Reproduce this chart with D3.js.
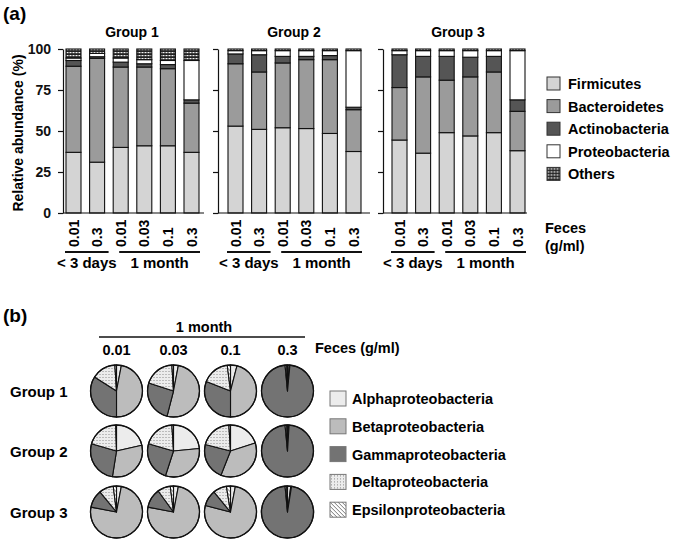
<!DOCTYPE html>
<html>
<head>
<meta charset="utf-8">
<script src="https://cdn.jsdelivr.net/npm/d3@7"></script>
<style>
  body { margin: 0; background: #fff; }
  svg { display: block; font-family: "Liberation Sans", Arial, sans-serif; font-weight: bold; }
</style>
</head>
<body>
<svg id="chart" width="675" height="541"></svg>
<script>
// ---- data (a): phylum relative abundance (%) per group, per sample ----
var phyla = ["Firmicutes", "Bacteroidetes", "Actinobacteria", "Proteobacteria", "Others"];
var groups = ["Group 1", "Group 2", "Group 3"];
var concLabels = ["0.01", "0.3", "0.01", "0.03", "0.1", "0.3"];
var periods = ["< 3 days", "1 month"];
var yTicks = [0, 25, 50, 75, 100];

var firmicutes     = [[37, 31, 40, 41, 41, 37], [53, 51, 52, 51.5, 48.5, 37.5], [44.5, 36.5, 49, 47, 49, 38]];
var bacteroidetes  = [[52.5, 63.3, 49, 48, 47, 30], [38, 35, 39.5, 42, 45, 25.5], [32, 46.5, 32, 36, 37, 24]];
var actinobacteria = [[3.5, 1, 3, 2, 2.5, 2], [6, 10.5, 4, 2, 2.5, 1.5], [20, 12.5, 14.5, 12, 9.5, 7]];
var proteobacteria = [[1.5, 2, 2.5, 2.5, 2.5, 24], [2, 2.5, 3.5, 3.5, 3, 34.5], [2.5, 3.5, 3.5, 4, 3.5, 30]];
var others         = [[5.5, 2.7, 5.5, 6.5, 7, 7], [1, 1, 1, 1, 1, 1], [1, 1, 1, 1, 1, 1]];

// ---- data (b): proteobacteria classes (%) at 1 month ----
var classes = ["Alphaproteobacteria", "Betaproteobacteria", "Gammaproteobacteria", "Deltaproteobacteria", "Epsilonproteobacteria"];
var pieConcs = ["0.01", "0.03", "0.1", "0.3"];
var alpha   = [[3, 3, 4, 1], [21.5, 23.5, 20, 0.5], [3, 3, 3, 2]];
var beta    = [[47, 51, 46, 0.5], [31, 31.5, 36, 0.5], [75, 75, 76, 0.5]];
var gamma   = [[34, 26, 31, 97], [27, 24.5, 23, 97.5], [11, 12, 10, 96]];
var delta   = [[15, 19, 17, 1], [20, 19.5, 20, 1], [9, 8, 8.5, 1]];
var epsilon = [[1, 1, 2, 0.5], [0.5, 1, 1, 0.5], [2, 2, 2.5, 0.5]];

var svg = d3.select("#chart");
var defs = svg.append("defs");

// patterns
var pOthers = defs.append("pattern").attr("id", "p-others")
  .attr("patternUnits", "userSpaceOnUse").attr("width", 3).attr("height", 3);
pOthers.append("rect").attr("width", 3).attr("height", 3).attr("fill", "#222");
pOthers.append("rect").attr("x", 0.5).attr("y", 1).attr("width", 2).attr("height", 1.2).attr("fill", "#f4f4f4");

var pDelta = defs.append("pattern").attr("id", "p-delta")
  .attr("patternUnits", "userSpaceOnUse").attr("width", 3).attr("height", 3);
pDelta.append("rect").attr("width", 3).attr("height", 3).attr("fill", "#ececec");
pDelta.append("rect").attr("x", 1).attr("y", 1).attr("width", 1).attr("height", 1).attr("fill", "#8a8a8a");

var pEps = defs.append("pattern").attr("id", "p-eps")
  .attr("patternUnits", "userSpaceOnUse").attr("width", 4).attr("height", 4);
pEps.append("rect").attr("width", 4).attr("height", 4).attr("fill", "#fff");
pEps.append("path").attr("d", "M-1,-1L5,5M-1,3L1,5M3,-1L5,1")
  .attr("stroke", "#777").attr("stroke-width", 1);

var phylumFill = d3.scaleOrdinal().domain(phyla)
  .range(["#d4d4d4", "#9b9b9b", "#555555", "#ffffff", "url(#p-others)"]);
var classFill = d3.scaleOrdinal().domain(classes)
  .range(["#ececec", "#bcbcbc", "#737373", "url(#p-delta)", "url(#p-eps)"]);

// ================= (a) stacked bars =================
svg.append("text").attr("x", 3).attr("y", 20).attr("font-size", 19).text("(a)");

var y = d3.scaleLinear().domain([0, 100]).range([213, 49]);
var panels = [
  {axisX: 63, barStart: 66, axisEnd: 204},
  {axisX: 218, barStart: 228, axisEnd: 370},
  {axisX: 383, barStart: 392, axisEnd: 527}
];
var stack = d3.stack().keys(phyla);
var series = [firmicutes, bacteroidetes, actinobacteria, proteobacteria, others];

groups.forEach(function(gName, gi) {
  var p = panels[gi];
  var x = d3.scaleBand().domain(d3.range(concLabels.length))
    .range([p.barStart, p.barStart + 133]).paddingInner(0.3644).paddingOuter(0);
  var rows = concLabels.map(function(c, i) {
    var o = {};
    phyla.forEach(function(k, ki) { o[k] = series[ki][gi][i]; });
    return o;
  });
  var g = svg.append("g");

  g.append("text").attr("x", x(0) + 66).attr("y", 37)
    .attr("text-anchor", "middle").attr("font-size", 14).text(gName);

  var layer = g.selectAll(".layer").data(stack(rows)).enter().append("g")
    .attr("fill", function(d) { return phylumFill(d.key); });
  layer.selectAll("rect").data(function(d) { return d; }).enter().append("rect")
    .attr("x", function(d, i) { return x(i); })
    .attr("width", x.bandwidth())
    .attr("y", function(d) { return y(d[1]); })
    .attr("height", function(d) { return y(d[0]) - y(d[1]); })
    .attr("stroke", "#111").attr("stroke-width", 1.1);

  var ax = g.append("g").attr("transform", "translate(" + p.axisX + ",0)")
    .call(d3.axisLeft(y).tickValues(yTicks).tickSize(5).tickSizeOuter(0).tickPadding(7)
      .tickFormat(gi === 0 ? d3.format("d") : function() { return ""; }));
  ax.select(".domain").attr("stroke", "#111").attr("stroke-width", 1.2);
  ax.selectAll(".tick line").attr("stroke", "#111").attr("stroke-width", 1.2);
  ax.selectAll("text").attr("font-size", 14).attr("font-family", "Liberation Sans, Arial, sans-serif")
    .attr("font-weight", "bold").attr("fill", "#111");

  g.append("line").attr("x1", p.axisX).attr("x2", p.axisEnd)
    .attr("y1", y(0)).attr("y2", y(0)).attr("stroke", "#111").attr("stroke-width", 1.2);

  g.selectAll(".conc").data(concLabels).enter().append("text")
    .attr("transform", function(d, i) { return "translate(" + (x(i) + x.bandwidth() / 2) + ",247) rotate(-90)"; })
    .attr("dy", "0.36em").attr("font-size", 14).text(function(d) { return d; });

  var spans = [[x(0) - 1, x(1) + x.bandwidth() + 4], [x(2) + 6, x(5) + x.bandwidth() + 1]];
  spans.forEach(function(s, si) {
    g.append("line").attr("x1", s[0]).attr("x2", s[1]).attr("y1", 252).attr("y2", 252)
      .attr("stroke", "#111").attr("stroke-width", 2);
    g.append("text").attr("x", (s[0] + s[1]) / 2).attr("y", 268)
      .attr("text-anchor", "middle").attr("font-size", 15).text(periods[si]);
  });
});

svg.append("text").attr("transform", "translate(23,133) rotate(-90)")
  .attr("text-anchor", "middle").attr("font-size", 14).text("Relative abundance (%)");

var legA = svg.append("g").selectAll("g").data(phyla).enter().append("g")
  .attr("transform", function(d, i) { return "translate(547," + (77 + i * 22.6) + ")"; });
legA.append("rect").attr("width", 13).attr("height", 13)
  .attr("fill", function(d) { return phylumFill(d); }).attr("stroke", "#333").attr("stroke-width", 1);
legA.append("text").attr("x", 21).attr("y", 12).attr("font-size", 14.5).text(function(d) { return d; });

svg.append("text").attr("x", 545).attr("y", 233).attr("font-size", 14.5).text("Feces");
svg.append("text").attr("x", 545).attr("y", 251).attr("font-size", 14.5).text("(g/ml)");

// ================= (b) pies =================
svg.append("text").attr("x", 3).attr("y", 322).attr("font-size", 19).text("(b)");

var px = d3.scalePoint().domain(pieConcs).range([116.5, 287.5]);
var pieRowY = [391, 451, 512];
var r = 26;
var pie = d3.pie().sort(null).value(function(d) { return d.v; });
var arc = d3.arc().innerRadius(0).outerRadius(r);
var classSeries = [alpha, beta, gamma, delta, epsilon];

svg.append("line").attr("x1", 99).attr("x2", 305).attr("y1", 337).attr("y2", 337)
  .attr("stroke", "#111").attr("stroke-width", 1.5);
svg.append("text").attr("x", 204).attr("y", 332).attr("text-anchor", "middle")
  .attr("font-size", 14.5).text("1 month");
svg.selectAll(".pc").data(pieConcs).enter().append("text")
  .attr("x", function(d) { return px(d); }).attr("y", 355)
  .attr("text-anchor", "middle").attr("font-size", 14.5).text(function(d) { return d; });
svg.append("text").attr("x", 315).attr("y", 353).attr("font-size", 14.5).text("Feces (g/ml)");

groups.forEach(function(gName, gi) {
  svg.append("text").attr("x", 10).attr("y", pieRowY[gi] + 6)
    .attr("font-size", 15).text(gName);
  pieConcs.forEach(function(c, ci) {
    var vals = classes.map(function(k, ki) { return {k: k, v: classSeries[ki][gi][ci]}; });
    var pg = svg.append("g").attr("transform", "translate(" + px(c) + "," + pieRowY[gi] + ")");
    pg.selectAll("path").data(pie(vals)).enter().append("path")
      .attr("d", arc)
      .attr("fill", function(d) { return classFill(d.data.k); })
      .attr("stroke", "#111").attr("stroke-width", 1.1).attr("stroke-linejoin", "round");
    pg.append("circle").attr("r", r).attr("fill", "none").attr("stroke", "#111").attr("stroke-width", 1.3);
  });
});

var legB = svg.append("g").selectAll("g").data(classes).enter().append("g")
  .attr("transform", function(d, i) { return "translate(330," + (391 + i * 27.8) + ")"; });
legB.append("rect").attr("width", 16).attr("height", 15)
  .attr("fill", function(d) { return classFill(d); }).attr("stroke", "#777").attr("stroke-width", 1);
legB.append("text").attr("x", 22).attr("y", 13).attr("font-size", 14.5).text(function(d) { return d; });
</script>
</body>
</html>
